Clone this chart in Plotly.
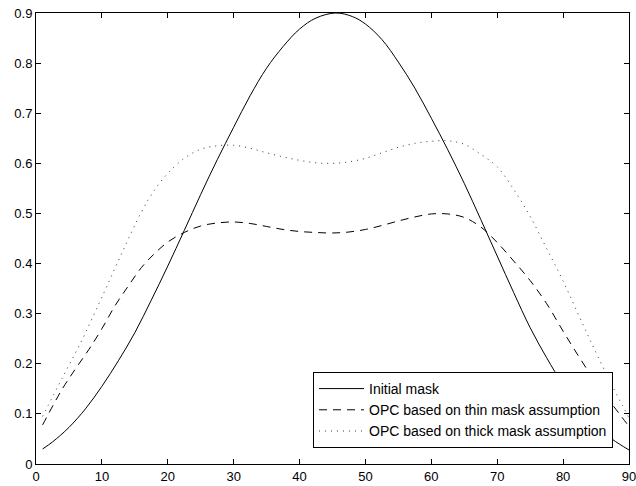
import plotly.graph_objects as go

# Initial mask (solid)
solid_x = [1, 2.5, 5, 7.5, 10, 12.5, 15, 17.5, 20, 22.5, 25, 27.5, 30, 32.5, 35, 37.5, 40, 42.5, 45.5,
           48, 50, 52.5, 55, 57.5, 60, 62.5, 65, 67.5, 70, 72.5, 75, 77.5, 80, 82.5, 85, 87.5, 90]
solid_y = [0.03, 0.044, 0.073, 0.11, 0.155, 0.206, 0.262, 0.327, 0.395, 0.466, 0.538, 0.607, 0.672,
           0.735, 0.79, 0.833, 0.868, 0.89, 0.9, 0.893, 0.878, 0.847, 0.802, 0.75, 0.69, 0.627, 0.56,
           0.488, 0.415, 0.342, 0.272, 0.212, 0.158, 0.113, 0.076, 0.049, 0.028]

# OPC based on thin mask assumption (dashed)
thin_x = [1, 4, 6, 8, 10, 12, 14, 16, 18, 20, 22.5, 25, 27.5, 30, 32.5, 35, 37.5, 40, 42.5, 45,
          47.5, 50, 52.5, 55, 57.5, 60, 62.5, 65, 67.5, 70, 72.5, 75, 77.5, 80, 82.5, 85, 87.5, 90]
thin_y = [0.078, 0.15, 0.19, 0.228, 0.27, 0.316, 0.355, 0.392, 0.42, 0.443, 0.462, 0.475, 0.481,
          0.483, 0.48, 0.474, 0.468, 0.464, 0.462, 0.461, 0.463, 0.468, 0.476, 0.485, 0.493, 0.499,
          0.499, 0.492, 0.473, 0.442, 0.405, 0.366, 0.32, 0.265, 0.212, 0.162, 0.118, 0.075]

# OPC based on thick mask assumption (dotted)
thick_x = [1, 4, 7, 10, 13, 16, 18, 20, 22.5, 25, 27.5, 30, 32.5, 35, 37.5, 40, 42.5, 45, 47.5,
           50, 52.5, 55, 57.5, 60, 62.5, 65, 67.5, 70, 72.5, 75, 77.5, 80, 82.5, 85, 87.5, 90]
thick_y = [0.095, 0.172, 0.248, 0.333, 0.42, 0.503, 0.547, 0.58, 0.61, 0.628, 0.635, 0.636, 0.63,
           0.621, 0.613, 0.606, 0.601, 0.6, 0.603, 0.61, 0.621, 0.632, 0.64, 0.644, 0.645, 0.638,
           0.618, 0.593, 0.548, 0.494, 0.43, 0.365, 0.293, 0.222, 0.155, 0.092]

names = ["Initial mask", "OPC based on thin mask assumption", "OPC based on thick mask assumption"]
x_ticks = [0, 10, 20, 30, 40, 50, 60, 70, 80, 90]
y_ticks = [0, 0.1, 0.2, 0.3, 0.4, 0.5, 0.6, 0.7, 0.8, 0.9]

FONT = "Liberation Sans, Arial, sans-serif"

fig = go.Figure()
fig.add_trace(go.Scatter(x=solid_x, y=solid_y, mode="lines", name=names[0],
                         line=dict(color="black", width=1, shape="spline", smoothing=1)))
fig.add_trace(go.Scatter(x=thin_x, y=thin_y, mode="lines", name=names[1],
                         line=dict(color="black", width=1, dash="8px,6px", shape="spline", smoothing=1)))
fig.add_trace(go.Scatter(x=thick_x, y=thick_y, mode="lines", name=names[2],
                         line=dict(color="#333333", width=1, dash="1px,5px", shape="spline", smoothing=1)))

axis_common = dict(showgrid=False, zeroline=False, showline=True, linecolor="black", linewidth=1,
                   mirror="ticks", ticks="inside", ticklen=5, tickcolor="black", tickwidth=1,
                   automargin=False, ticklabeloverflow="allow",
                   tickfont=dict(family=FONT, size=13, color="black"))

fig.update_layout(
    width=636, height=486,
    margin=dict(l=36, r=7, t=13, b=22),
    paper_bgcolor="white", plot_bgcolor="white",
    font=dict(family=FONT, size=13, color="black"),
    xaxis=dict(range=[0, 90], tickvals=x_ticks, **axis_common),
    yaxis=dict(range=[0, 0.9], tickvals=y_ticks, **axis_common),
    legend=dict(x=0.973, y=0.0355, xanchor="right", yanchor="bottom",
                bordercolor="black", borderwidth=1, bgcolor="white", itemwidth=45,
                font=dict(family=FONT, size=14), tracegroupgap=0),
    showlegend=True,
)

fig.write_html("out.html")
